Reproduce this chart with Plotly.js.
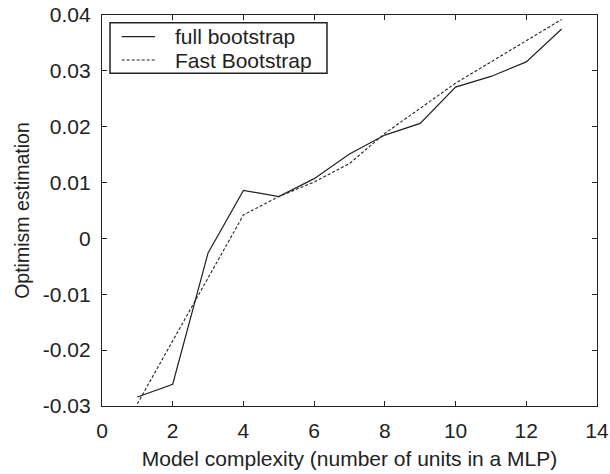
<!DOCTYPE html>
<html>
<head>
<meta charset="utf-8">
<script src="https://cdn.plot.ly/plotly-3.0.1.min.js"></script>
<style>
  html, body { margin: 0; padding: 0; background: #fff; }
  #chart { width: 610px; height: 474px; }
</style>
</head>
<body>
<div id="chart"></div>
<script>
// Number of hidden units in the MLP
const units = [1, 2, 3, 4, 5, 6, 7, 8, 9, 10, 11, 12, 13];

// Optimism estimated with the full bootstrap
const fullBootstrap = [-0.0284, -0.0261, -0.0026, 0.0086, 0.0075, 0.0107, 0.0151, 0.0185, 0.0206, 0.0271, 0.0290, 0.0316, 0.0375];

// Optimism estimated with the fast bootstrap
const fastBootstrap = [-0.0296, -0.0183, -0.0071, 0.0042, 0.0075, 0.0101, 0.0134, 0.0188, 0.0233, 0.0278, 0.0316, 0.0354, 0.0392];

const seriesNames = ['full bootstrap', 'Fast Bootstrap'];

const xTicks = [0, 2, 4, 6, 8, 10, 12, 14];
const yTicks = [-0.03, -0.02, -0.01, 0, 0.01, 0.02, 0.03, 0.04];
const yTickLabels = ['-0.03', '-0.02', '-0.01', '0', '0.01', '0.02', '0.03', '0.04'];

const ink = '#222';
const font = { family: '"Liberation Sans", Arial, sans-serif', size: 21, color: ink };
const solidLine = { color: ink, width: 1.2 };
const dashedLine = { color: ink, width: 1.1, dash: '3px,2px' };

const traces = [
  { x: units, y: fullBootstrap, name: seriesNames[0], type: 'scatter', mode: 'lines', line: solidLine },
  { x: units, y: fastBootstrap, name: seriesNames[1], type: 'scatter', mode: 'lines', line: dashedLine }
];

// Boxed legend in the upper-left corner of the plot area (paper coordinates)
const legendBox = { x0: 0.0162, x1: 0.4545, y0: 0.851, y1: 0.980 };
const legendRows = [0.9445, 0.8849];
const legendLine = { x0: 0.0398, x1: 0.1071 };
const legendTextX = 0.1455;

const shapes = [
  {
    type: 'rect', xref: 'paper', yref: 'paper',
    x0: legendBox.x0, x1: legendBox.x1, y0: legendBox.y0, y1: legendBox.y1,
    line: { color: ink, width: 1.5 }, fillcolor: '#fff', layer: 'above'
  },
  {
    type: 'line', xref: 'paper', yref: 'paper',
    x0: legendLine.x0, x1: legendLine.x1, y0: legendRows[0], y1: legendRows[0],
    line: solidLine, layer: 'above'
  },
  {
    type: 'line', xref: 'paper', yref: 'paper',
    x0: legendLine.x0, x1: legendLine.x1, y0: legendRows[1], y1: legendRows[1],
    line: dashedLine, layer: 'above'
  }
];

const annotations = seriesNames.map((name, i) => ({
  text: name, xref: 'paper', yref: 'paper',
  x: legendTextX, y: legendRows[i], xanchor: 'left', yanchor: 'middle',
  showarrow: false, font: font, borderpad: 0
}));

const axisCommon = {
  showgrid: false, zeroline: false,
  showline: true, linecolor: ink, linewidth: 1.2, mirror: 'ticks',
  ticks: 'inside', ticklen: 5, tickwidth: 1, tickcolor: ink,
  tickfont: font
};

const layout = {
  width: 610, height: 474,
  margin: { l: 102, r: 13, t: 15, b: 68 },
  paper_bgcolor: '#fff', plot_bgcolor: '#fff',
  font: font,
  showlegend: false,
  shapes: shapes,
  annotations: annotations,
  xaxis: Object.assign({}, axisCommon, {
    range: [0, 14], tickvals: xTicks, ticktext: xTicks.map(String),
    ticklabelstandoff: 6,
    title: { text: 'Model complexity (number of units in a MLP)', font: font, standoff: 9 }
  }),
  yaxis: Object.assign({}, axisCommon, {
    range: [-0.03, 0.04], tickvals: yTicks, ticktext: yTickLabels,
    ticklabelstandoff: 6,
    title: { text: 'Optimism estimation', font: Object.assign({}, font, { size: 19.5 }), standoff: 7 }
  })
};

Plotly.newPlot('chart', traces, layout, { staticPlot: true, displayModeBar: false });
</script>
</body>
</html>
